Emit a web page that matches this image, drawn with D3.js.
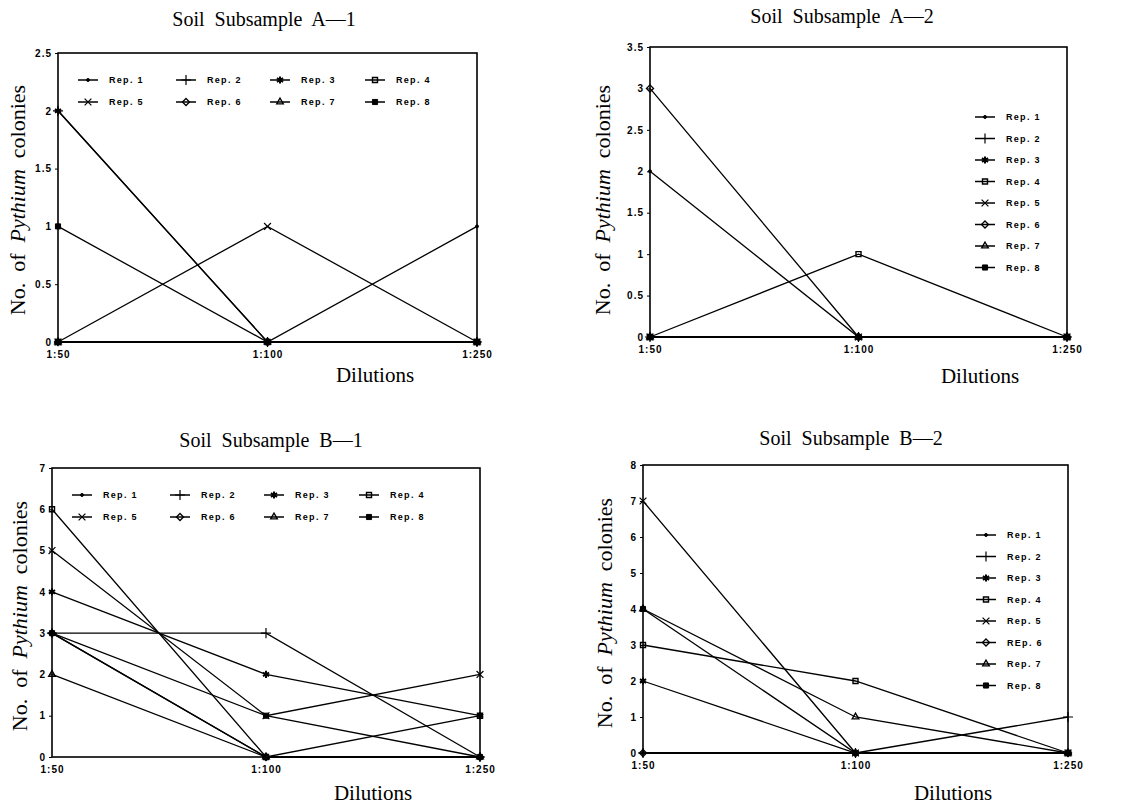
<!DOCTYPE html>
<html>
<head>
<meta charset="utf-8">
<script src="https://cdn.jsdelivr.net/npm/d3@7"></script>
<style>
  body { margin: 0; background: #fff; }
  svg { display: block; }
  .title, .axis-title { font-family: "Liberation Serif", "DejaVu Serif", serif; fill: #000; white-space: pre; }
  .tick text { font-family: "Liberation Sans", Arial, sans-serif; font-weight: bold; letter-spacing: 1px; }
  .legend text { font-family: "Liberation Sans", Arial, sans-serif; font-weight: bold; font-size: 9px; letter-spacing: 1.3px; }
</style>
</head>
<body>
<div id="chart"></div>
<script>
const dilutions = ["1:50", "1:100", "1:250"];
const repNames = ["Rep. 1", "Rep. 2", "Rep. 3", "Rep. 4", "Rep. 5", "Rep. 6", "Rep. 7", "Rep. 8"];
const repNamesB2 = ["Rep. 1", "Rep. 2", "Rep. 3", "Rep. 4", "Rep. 5", "REp. 6", "Rep. 7", "Rep. 8"];

const a1Ticks = [0, 0.5, 1, 1.5, 2, 2.5];
const a2Ticks = [0, 0.5, 1, 1.5, 2, 2.5, 3, 3.5];
const b1Ticks = [0, 1, 2, 3, 4, 5, 6, 7];
const b2Ticks = [0, 1, 2, 3, 4, 5, 6, 7, 8];

// colonies per rep at 1:50, 1:100, 1:250
const a1Counts = [[0, 0, 1], [2, 0, 0], [2, 0, 0], [0, 0, 0], [0, 1, 0], [0, 0, 0], [0, 0, 0], [1, 0, 0]];
const a2Counts = [[2, 0, 0], [0, 0, 0], [0, 0, 0], [0, 1, 0], [0, 0, 0], [3, 0, 0], [0, 0, 0], [0, 0, 0]];
const b1Counts = [[3, 0, 0], [3, 3, 0], [4, 2, 1], [6, 0, 1], [5, 1, 2], [3, 0, 0], [2, 0, 0], [3, 1, 0]];
const b2Counts = [[0, 0, 0], [0, 0, 1], [2, 0, 0], [3, 2, 0], [7, 0, 0], [0, 0, 0], [4, 1, 0], [4, 0, 0]];

const panels = [
    { name: "A\u20141", counts: a1Counts, ticks: a1Ticks, labels: repNames, box: { l: 58, r: 477, t: 53, b: 342 },
      legend: "grid", title: [264, 26], xTitle: [375, 382], yTitle: [25, 200] },
    { name: "A\u20142", counts: a2Counts, ticks: a2Ticks, labels: repNames, box: { l: 650, r: 1067, t: 47, b: 337 },
      legend: "column", title: [842, 23], xTitle: [980, 383], yTitle: [610, 200] },
    { name: "B\u20141", counts: b1Counts, ticks: b1Ticks, labels: repNames, box: { l: 52, r: 480, t: 468, b: 757 },
      legend: "grid", title: [271, 447], xTitle: [373, 800], yTitle: [27, 616] },
    { name: "B\u20142", counts: b2Counts, ticks: b2Ticks, labels: repNamesB2, box: { l: 643, r: 1068, t: 465, b: 753 },
      legend: "column", title: [851, 445], xTitle: [953, 800], yTitle: [612, 613] }
];

const markers = [
    { type: d3.symbolCircle, size: 7, fill: true, sw: 1 },
    { type: d3.symbolPlus, size: 35, fill: false, sw: 1.2 },
    { type: d3.symbolAsterisk, size: 35, fill: false, sw: 2 },
    { type: d3.symbolSquare2, size: 32, fill: false, sw: 1.4 },
    { type: d3.symbolTimes, size: 32, fill: false, sw: 1.2 },
    { type: d3.symbolDiamond2, size: 32, fill: false, sw: 1.3 },
    { type: d3.symbolTriangle2, size: 32, fill: false, sw: 1.3 },
    { type: d3.symbolSquare, size: 26, fill: true, sw: 1 }
];

function drawMarker(g, i, x, y) {
    const m = markers[i];
    g.append("path")
        .attr("d", d3.symbol().type(m.type).size(m.size)())
        .attr("transform", `translate(${x},${y})`)
        .attr("fill", m.fill ? "#000" : "none")
        .attr("stroke", "#000")
        .attr("stroke-width", m.sw);
}

const svg = d3.select("#chart").append("svg")
    .attr("width", 1134)
    .attr("height", 806);
svg.append("rect").attr("width", 1134).attr("height", 806).attr("fill", "#fff");

panels.forEach(p => {
    const g = svg.append("g");
    const x = d3.scalePoint().domain(dilutions).range([p.box.l, p.box.r]);
    const y = d3.scaleLinear().domain([0, d3.max(p.ticks)]).range([p.box.b, p.box.t]);

    g.append("text").attr("class", "title")
        .attr("x", p.title[0]).attr("y", p.title[1])
        .attr("text-anchor", "middle").attr("font-size", 20)
        .text("Soil  Subsample  " + p.name);

    g.append("text").attr("class", "axis-title")
        .attr("x", p.xTitle[0]).attr("y", p.xTitle[1])
        .attr("text-anchor", "middle").attr("font-size", 21)
        .text("Dilutions");

    const yt = g.append("text").attr("class", "axis-title")
        .attr("transform", `translate(${p.yTitle[0]},${p.yTitle[1]}) rotate(-90)`)
        .attr("text-anchor", "middle").attr("font-size", 22);
    yt.append("tspan").text("No.  of  ");
    yt.append("tspan").attr("font-style", "italic").text("Pythium");
    yt.append("tspan").text("  colonies");

    // axes
    g.append("g")
        .attr("transform", `translate(${p.box.l},0)`)
        .call(d3.axisLeft(y).tickValues(p.ticks).tickFormat(d3.format("")).tickSize(3).tickPadding(3))
        .call(a => a.select(".domain").remove())
        .call(a => a.selectAll("text").attr("font-size", 10).attr("fill", "#000"))
        .call(a => a.selectAll("line").attr("stroke", "#000"));

    g.append("g")
        .attr("transform", `translate(0,${p.box.b})`)
        .call(d3.axisBottom(x).tickSize(0).tickPadding(9))
        .call(a => a.select(".domain").remove())
        .call(a => a.selectAll("text").attr("font-size", 10).attr("fill", "#000"));

    g.append("rect")
        .attr("x", p.box.l).attr("y", p.box.t)
        .attr("width", p.box.r - p.box.l).attr("height", p.box.b - p.box.t)
        .attr("fill", "none").attr("stroke", "#000").attr("stroke-width", 1.6);

    // series lines
    const line = d3.line().x((d, i) => x(dilutions[i])).y(d => y(d));
    p.counts.forEach(c => {
        g.append("path").datum(c)
            .attr("d", line)
            .attr("fill", "none").attr("stroke", "#000").attr("stroke-width", 1.3);
    });
    p.counts.forEach((c, i) => {
        c.forEach((v, j) => drawMarker(g, i, x(dilutions[j]), y(v)));
    });

    // legend
    const lg = g.append("g").attr("class", "legend");
    p.labels.forEach((lab, i) => {
        let lx, ly;
        if (p.legend === "grid") {
            lx = p.box.l + [20, 118, 212, 307][i % 4];
            ly = p.box.t + (i < 4 ? 27 : 49);
        } else {
            lx = p.box.r - 92;
            ly = p.box.t + 70 + i * 21.5;
        }
        lg.append("line").attr("x1", lx).attr("x2", lx + 20).attr("y1", ly).attr("y2", ly)
            .attr("stroke", "#000").attr("stroke-width", 1.5);
        drawMarker(lg, i, lx + 10, ly);
        lg.append("text").attr("x", lx + 31).attr("y", ly + 3).text(lab);
    });
});
</script>
</body>
</html>
